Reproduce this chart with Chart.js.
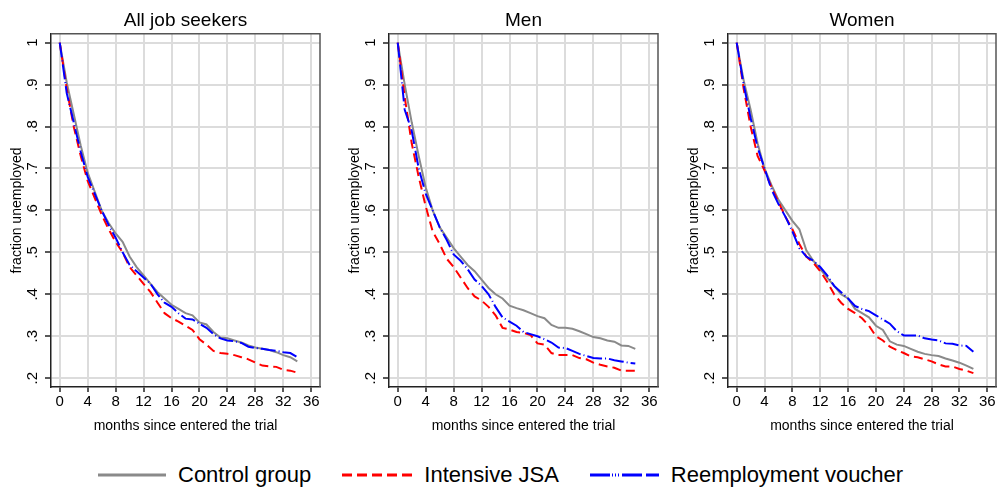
<!DOCTYPE html>
<html>
<head>
<meta charset="utf-8">
<script src="https://cdn.jsdelivr.net/npm/chart.js@4.4.1/dist/chart.umd.min.js"></script>
<style>
  body { margin: 0; background: #fff; }
  #wrap { position: relative; width: 997px; height: 489px; overflow: hidden; font-family: "Liberation Sans", Arial, sans-serif; }
  .panel { position: absolute; top: 0; height: 445px; }
  #legend { position: absolute; top: 462px; left: 98px; display: flex; align-items: center; font-size: 22px; white-space: nowrap; color: #000; }
  .item { display: flex; align-items: center; margin-right: 31px; }
  .item svg { margin-right: 12px; }
</style>
</head>
<body>
<div id="wrap">
  <div class="panel" style="left:0;width:330px"><canvas id="c1"></canvas></div>
  <div class="panel" style="left:338px;width:330px"><canvas id="c2"></canvas></div>
  <div class="panel" style="left:677px;width:320px"><canvas id="c3"></canvas></div>
  <div id="legend">
    <div class="item"><svg width="68" height="6"><line x1="0" y1="3" x2="68" y2="3" stroke="#8a8a8a" stroke-width="3"/></svg><span>Control group</span></div>
    <div class="item"><svg width="70" height="6"><line x1="0" y1="3" x2="70" y2="3" stroke="#ff0000" stroke-width="3" stroke-dasharray="10,5"/></svg><span>Intensive JSA</span></div>
    <div class="item"><svg width="69" height="6"><line x1="0" y1="3" x2="69" y2="3" stroke="#0000ff" stroke-width="3" stroke-dasharray="20,2,1,2,1,2,1,3,20,4"/></svg><span>Reemployment voucher</span></div>
  </div>
</div>
<script>
const months = [0,1,2,3,4,5,6,7,8,9,10,11,12,13,14,15,16,17,18,19,20,21,22,23,24,25,26,27,28,29,30,31,32,33,34];

const allControl = [1,0.905,0.83,0.755,0.69,0.645,0.60,0.57,0.545,0.525,0.49,0.465,0.445,0.425,0.405,0.39,0.375,0.365,0.355,0.35,0.333,0.328,0.31,0.297,0.295,0.29,0.285,0.278,0.273,0.27,0.267,0.262,0.255,0.25,0.24];
const allJSA = [1,0.89,0.80,0.73,0.67,0.63,0.59,0.555,0.525,0.50,0.465,0.445,0.425,0.405,0.38,0.355,0.343,0.335,0.325,0.315,0.293,0.28,0.265,0.26,0.258,0.255,0.25,0.245,0.237,0.23,0.228,0.227,0.22,0.218,0.213];
const allVoucher = [1,0.88,0.81,0.74,0.68,0.64,0.60,0.565,0.535,0.50,0.47,0.455,0.44,0.425,0.40,0.38,0.37,0.355,0.342,0.34,0.33,0.32,0.305,0.295,0.29,0.288,0.284,0.275,0.272,0.27,0.267,0.265,0.262,0.26,0.25];

const menControl = [1,0.9,0.81,0.73,0.655,0.60,0.56,0.535,0.51,0.49,0.47,0.455,0.435,0.415,0.40,0.39,0.373,0.367,0.362,0.355,0.348,0.343,0.327,0.32,0.32,0.318,0.312,0.305,0.298,0.295,0.29,0.287,0.278,0.277,0.27];
const menJSA = [1,0.87,0.76,0.68,0.61,0.55,0.52,0.485,0.465,0.44,0.415,0.395,0.385,0.37,0.35,0.32,0.316,0.31,0.308,0.303,0.283,0.28,0.26,0.255,0.255,0.255,0.248,0.245,0.237,0.232,0.228,0.225,0.218,0.218,0.218];
const menVoucher = [1,0.84,0.79,0.70,0.64,0.60,0.56,0.53,0.495,0.48,0.46,0.435,0.42,0.40,0.37,0.345,0.335,0.325,0.31,0.305,0.30,0.293,0.285,0.273,0.272,0.265,0.258,0.253,0.248,0.247,0.247,0.243,0.24,0.237,0.235];

const womenControl = [1,0.91,0.84,0.76,0.70,0.66,0.625,0.60,0.575,0.555,0.505,0.48,0.46,0.44,0.42,0.40,0.39,0.365,0.355,0.345,0.325,0.315,0.288,0.28,0.277,0.27,0.263,0.258,0.255,0.253,0.247,0.242,0.237,0.23,0.222];
const womenJSA = [1,0.89,0.80,0.73,0.695,0.655,0.62,0.585,0.555,0.52,0.49,0.475,0.455,0.43,0.40,0.38,0.365,0.355,0.343,0.325,0.30,0.29,0.275,0.267,0.26,0.252,0.25,0.245,0.24,0.233,0.228,0.228,0.222,0.218,0.212];
const womenVoucher = [1,0.90,0.82,0.75,0.70,0.65,0.615,0.585,0.55,0.51,0.49,0.48,0.465,0.445,0.42,0.405,0.39,0.372,0.365,0.36,0.35,0.34,0.33,0.312,0.302,0.302,0.302,0.295,0.292,0.29,0.283,0.282,0.278,0.277,0.263];

const xTickValues = [0,4,8,12,16,20,24,28,32,36];
const yTickValues = [0.2,0.3,0.4,0.5,0.6,0.7,0.8,0.9,1];
const yTickLabels = ['.2','.3','.4','.5','.6','.7','.8','.9','1'];

Chart.defaults.font.family = '"Liberation Sans", Arial, sans-serif';
Chart.defaults.color = '#000';

// y tick labels are rotated in the original, chart.js can't rotate y ticks
const rotatedYTicks = {
  id: 'rotatedYTicks',
  afterDraw(chart) {
    const s = chart.scales.y;
    const ctx = chart.ctx;
    ctx.save();
    ctx.font = '15px "Liberation Sans", Arial, sans-serif';
    ctx.fillStyle = '#000';
    ctx.textAlign = 'center';
    ctx.textBaseline = 'middle';
    yTickValues.forEach((v, i) => {
      ctx.save();
      ctx.translate(s.right - 18, s.getPixelForValue(v));
      ctx.rotate(-Math.PI / 2);
      ctx.fillText(yTickLabels[i], 0, 0);
      ctx.restore();
    });
    ctx.restore();
  }
};

// top and right edges of the plot box
const boxFrame = {
  id: 'boxFrame',
  afterDraw(chart) {
    const a = chart.chartArea;
    const ctx = chart.ctx;
    ctx.save();
    ctx.strokeStyle = '#555';
    ctx.lineWidth = 1.5;
    ctx.beginPath();
    ctx.moveTo(a.left, a.top);
    ctx.lineTo(a.right, a.top);
    ctx.lineTo(a.right, a.bottom);
    ctx.stroke();
    ctx.restore();
  }
};

function pts(ys) {
  return months.map((m, i) => ({ x: m, y: ys[i] }));
}

function makeChart(id, title, control, jsa, voucher, padRight) {
  new Chart(document.getElementById(id), {
    type: 'line',
    data: {
      datasets: [
        { label: 'Control group', data: pts(control), borderColor: '#8a8a8a', borderWidth: 2, order: 3 },
        { label: 'Intensive JSA', data: pts(jsa), borderColor: '#ff0000', borderWidth: 2, borderDash: [9, 5], order: 2 },
        { label: 'Reemployment voucher', data: pts(voucher), borderColor: '#0000ff', borderWidth: 2, borderDash: [15, 3, 1, 3], order: 1 }
      ]
    },
    options: {
      responsive: true,
      maintainAspectRatio: false,
      animation: false,
      layout: { padding: { left: 0, right: padRight, top: 0, bottom: 8 } },
      elements: { point: { radius: 0 }, line: { tension: 0 } },
      plugins: {
        legend: { display: false },
        tooltip: { enabled: false },
        title: {
          display: true,
          text: title,
          fullSize: false,
          font: { size: 19, weight: 'normal' },
          padding: { top: 9, bottom: 2 }
        }
      },
      scales: {
        x: {
          type: 'linear',
          min: -1.25,
          max: 37.25,
          afterBuildTicks: s => { s.ticks = xTickValues.map(v => ({ value: v })); },
          afterFit: s => { s.height = 50; },
          ticks: { font: { size: 15 }, padding: 1, maxRotation: 0, callback: v => String(v) },
          grid: { color: '#dcdcdc', lineWidth: 2, tickLength: 5, tickColor: '#222', tickWidth: 1.5 },
          border: { color: '#222', width: 1.5 },
          title: { display: true, text: 'months since entered the trial', font: { size: 14 }, padding: { top: 0, bottom: 2 } }
        },
        y: {
          min: 0.179,
          max: 1.021,
          afterBuildTicks: s => { s.ticks = yTickValues.map(v => ({ value: v })); },
          afterFit: s => { s.width = 51; },
          ticks: { display: false },
          grid: { color: '#dcdcdc', lineWidth: 2, tickLength: 6, tickColor: '#222', tickWidth: 1.5 },
          border: { color: '#222', width: 1.5 },
          title: { display: true, text: 'fraction unemployed', font: { size: 14 }, padding: { top: 9, bottom: 0 } }
        }
      }
    },
    plugins: [rotatedYTicks, boxFrame]
  });
}

makeChart('c1', 'All job seekers', allControl, allJSA, allVoucher, 10);
makeChart('c2', 'Men', menControl, menJSA, menVoucher, 10);
makeChart('c3', 'Women', womenControl, womenJSA, womenVoucher, 1);
</script>
</body>
</html>
